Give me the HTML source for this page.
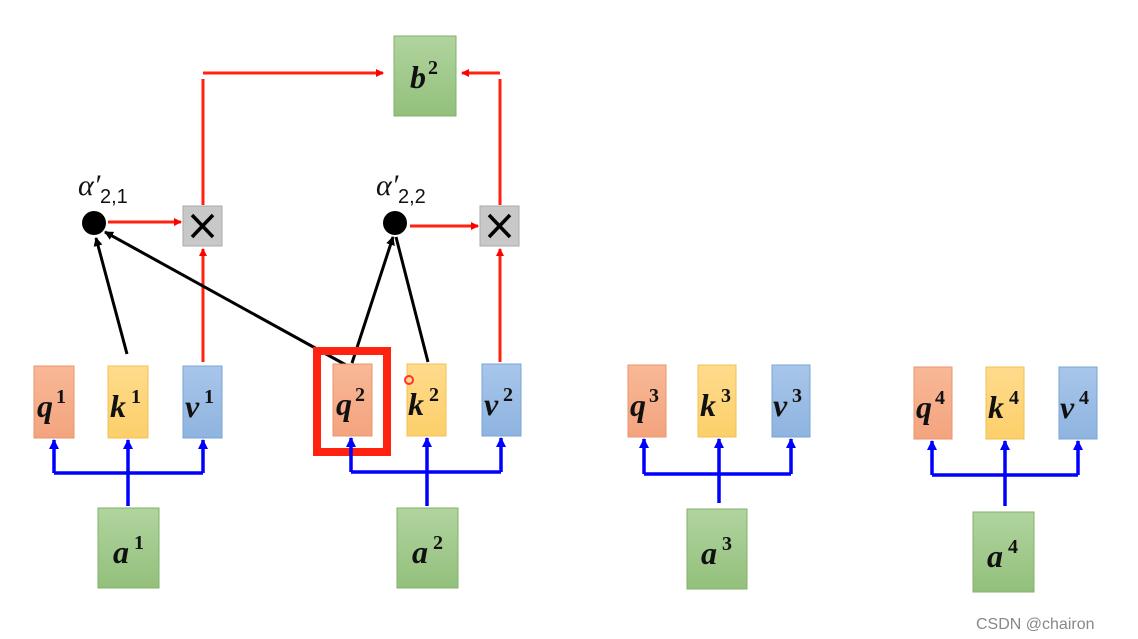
<!DOCTYPE html>
<html><head><meta charset="utf-8"><style>
html,body{margin:0;padding:0;background:#fff;width:1138px;height:639px;overflow:hidden}
svg{display:block}
.t{font-family:"Liberation Serif",serif;font-weight:bold;font-style:italic;font-size:32px;fill:#111}
.s{font-family:"Liberation Serif",serif;font-weight:bold;font-size:20px;fill:#111}
.al{font-family:"Liberation Serif",serif;font-style:italic;font-size:30px;fill:#111}
.as{font-family:"Liberation Sans",sans-serif;font-size:20px;fill:#111}
</style></head><body>
<svg width="1138" height="639" viewBox="0 0 1138 639">
<defs>
<linearGradient id="gq" x1="0" y1="0" x2="0" y2="1"><stop offset="0" stop-color="#f8b896"/><stop offset="1" stop-color="#f3a47e"/></linearGradient>
<linearGradient id="gk" x1="0" y1="0" x2="0" y2="1"><stop offset="0" stop-color="#fedb8c"/><stop offset="1" stop-color="#fccf6a"/></linearGradient>
<linearGradient id="gv" x1="0" y1="0" x2="0" y2="1"><stop offset="0" stop-color="#a8c6ea"/><stop offset="1" stop-color="#8eb4e0"/></linearGradient>
<linearGradient id="ga" x1="0" y1="0" x2="0" y2="1"><stop offset="0" stop-color="#b0d49e"/><stop offset="1" stop-color="#93c07c"/></linearGradient>
<marker id="mr" markerWidth="8" markerHeight="8" refX="7" refY="4" orient="auto" markerUnits="userSpaceOnUse"><path d="M0,0 L8,4 L0,8z" fill="#f00"/></marker>
<marker id="mb" markerWidth="10" markerHeight="10" refX="9" refY="5" orient="auto" markerUnits="userSpaceOnUse"><path d="M0,0 L10,5 L0,10z" fill="#00f"/></marker>
<marker id="mk" markerWidth="9" markerHeight="9" refX="8" refY="4.5" orient="auto" markerUnits="userSpaceOnUse"><path d="M0,0 L9,4.5 L0,9z" fill="#000"/></marker>
</defs>

<!-- b2 -->
<rect x="394" y="36" width="62" height="80" fill="url(#ga)" stroke="#82b06a"/>
<text x="410" y="88" class="t">b</text><text x="428" y="74" class="s">2</text>

<!-- red top connectors -->
<g stroke="#f21" stroke-width="3" fill="none">
<path d="M203,205 V79"/>
<path d="M203,73 H383" marker-end="url(#mr)"/>
<path d="M500,205 V79"/>
<path d="M500,73 H462" marker-end="url(#mr)"/>
<path d="M108,222 H181" marker-end="url(#mr)"/>
<path d="M410,226 H478" marker-end="url(#mr)"/>
<path d="M203,362 V249" marker-end="url(#mr)"/>
<path d="M500,362 V249" marker-end="url(#mr)"/>
</g>

<!-- X boxes -->
<g>
<rect x="183" y="206" width="39" height="40" fill="#c8c8c8" stroke="#aaa"/>
<path d="M192,215 L213,237 M213,215 L192,237" stroke="#000" stroke-width="3.5"/>
<rect x="480" y="206" width="39" height="40" fill="#c8c8c8" stroke="#aaa"/>
<path d="M489,215 L510,237 M510,215 L489,237" stroke="#000" stroke-width="3.5"/>
</g>

<!-- dots -->
<circle cx="94" cy="223" r="12" fill="#000"/>
<circle cx="395" cy="223" r="12" fill="#000"/>
<text x="78" y="195" class="al">α′</text><text x="100" y="203" class="as">2,1</text>
<text x="376" y="195" class="al">α′</text><text x="398" y="203" class="as">2,2</text>

<!-- black arrows -->
<g stroke="#000" stroke-width="3" fill="none">
<path d="M127,354 L96,238" marker-end="url(#mk)"/>
<path d="M346,365 L105,232" marker-end="url(#mk)"/>
<path d="M352,363 L393,237" marker-end="url(#mk)"/>
<path d="M428,362 L396,237"/>
</g>

<!-- highlight -->
<rect x="317" y="351" width="70" height="101" fill="none" stroke="#f21" stroke-width="8"/>

<!-- boxes function-like via groups -->
<g>
<!-- group1 -->
<rect x="34" y="366" width="40" height="72" fill="url(#gq)" stroke="#e8956e"/>
<rect x="108" y="366" width="40" height="72" fill="url(#gk)" stroke="#f2c050"/>
<rect x="183" y="366" width="39" height="72" fill="url(#gv)" stroke="#7aa3d6"/>
<rect x="98" y="508" width="61" height="80" fill="url(#ga)" stroke="#82b06a"/>
<!-- group2 -->
<rect x="333" y="364" width="39" height="72" fill="url(#gq)" stroke="#e8956e"/>
<rect x="407" y="364" width="39" height="72" fill="url(#gk)" stroke="#f2c050"/>
<rect x="482" y="364" width="39" height="72" fill="url(#gv)" stroke="#7aa3d6"/>
<rect x="397" y="508" width="61" height="80" fill="url(#ga)" stroke="#82b06a"/>
<!-- group3 -->
<rect x="628" y="365" width="38" height="72" fill="url(#gq)" stroke="#e8956e"/>
<rect x="698" y="365" width="38" height="72" fill="url(#gk)" stroke="#f2c050"/>
<rect x="772" y="365" width="38" height="72" fill="url(#gv)" stroke="#7aa3d6"/>
<rect x="687" y="509" width="60" height="80" fill="url(#ga)" stroke="#82b06a"/>
<!-- group4 -->
<rect x="914" y="367" width="38" height="72" fill="url(#gq)" stroke="#e8956e"/>
<rect x="986" y="367" width="38" height="72" fill="url(#gk)" stroke="#f2c050"/>
<rect x="1059" y="367" width="38" height="72" fill="url(#gv)" stroke="#7aa3d6"/>
<rect x="973" y="512" width="61" height="80" fill="url(#ga)" stroke="#82b06a"/>
</g>

<!-- labels -->
<g>
<text x="37" y="417" class="t">q</text><text x="56" y="403" class="s">1</text>
<text x="110" y="417" class="t">k</text><text x="131" y="403" class="s">1</text>
<text x="185" y="417" class="t">v</text><text x="204" y="403" class="s">1</text>
<text x="113" y="563" class="t">a</text><text x="134" y="549" class="s">1</text>

<text x="336" y="415" class="t">q</text><text x="355" y="401" class="s">2</text>
<text x="408" y="415" class="t">k</text><text x="429" y="401" class="s">2</text>
<text x="484" y="415" class="t">v</text><text x="503" y="401" class="s">2</text>
<text x="412" y="563" class="t">a</text><text x="433" y="549" class="s">2</text>

<text x="630" y="416" class="t">q</text><text x="649" y="402" class="s">3</text>
<text x="700" y="416" class="t">k</text><text x="721" y="402" class="s">3</text>
<text x="773" y="416" class="t">v</text><text x="792" y="402" class="s">3</text>
<text x="701" y="564" class="t">a</text><text x="722" y="550" class="s">3</text>

<text x="916" y="418" class="t">q</text><text x="935" y="404" class="s">4</text>
<text x="988" y="418" class="t">k</text><text x="1009" y="404" class="s">4</text>
<text x="1060" y="418" class="t">v</text><text x="1079" y="404" class="s">4</text>
<text x="987" y="567" class="t">a</text><text x="1008" y="553" class="s">4</text>
</g>

<!-- blue -->
<g stroke="#00f" stroke-width="3.5" fill="none">
<path d="M54,473 H203"/>
<path d="M128,506 V440" marker-end="url(#mb)"/>
<path d="M54,473 V440" marker-end="url(#mb)"/>
<path d="M203,473 V440" marker-end="url(#mb)"/>

<path d="M351,472 H501"/>
<path d="M427,506 V438" marker-end="url(#mb)"/>
<path d="M351,472 V438" marker-end="url(#mb)"/>
<path d="M501,472 V438" marker-end="url(#mb)"/>

<path d="M644,474 H791"/>
<path d="M719,503 V439" marker-end="url(#mb)"/>
<path d="M644,474 V439" marker-end="url(#mb)"/>
<path d="M791,474 V439" marker-end="url(#mb)"/>

<path d="M932,475 H1078"/>
<path d="M1005,506 V441" marker-end="url(#mb)"/>
<path d="M932,475 V441" marker-end="url(#mb)"/>
<path d="M1078,475 V441" marker-end="url(#mb)"/>
</g>

<circle cx="409" cy="380" r="4" fill="none" stroke="#f33" stroke-width="2"/>
<text x="976" y="629" font-family="Liberation Sans,sans-serif" font-size="16" fill="#888">CSDN @chairon</text>
</svg>
</body></html>
